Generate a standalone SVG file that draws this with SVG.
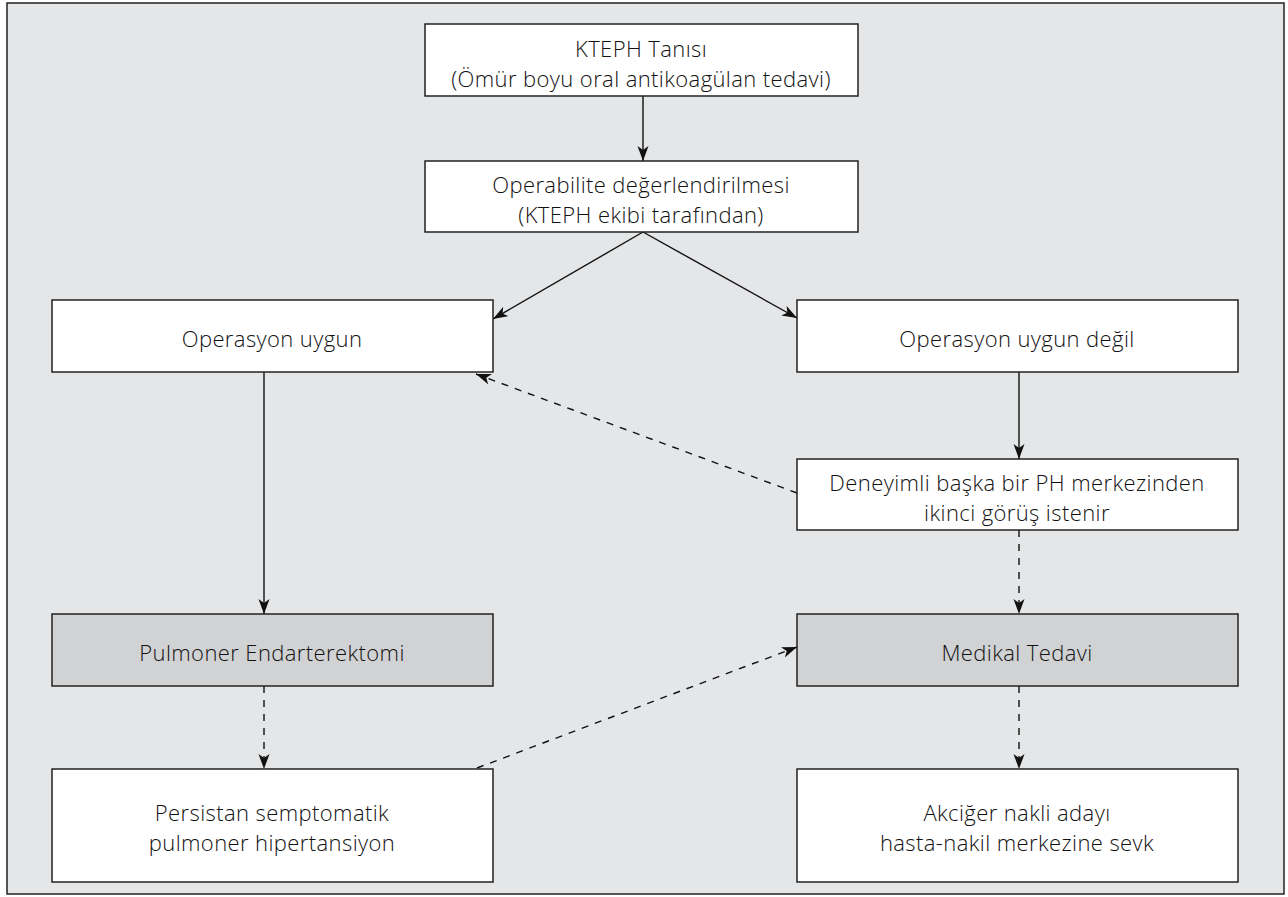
<svg xmlns="http://www.w3.org/2000/svg" width="1288" height="897" viewBox="0 0 1288 897">
<defs>
<marker id="ah" markerUnits="userSpaceOnUse" markerWidth="16" markerHeight="12" refX="15" refY="5.5" orient="auto">
<path d="M0,0 L15,5.5 L0,11 L4,5.5 Z" fill="#111"/>
</marker>
</defs>
<style>
.box{fill:#fff;stroke:#222;stroke-width:1.5}
.gray{fill:#d1d2d4}
.t{font-family:"Open Sans","Noto Sans","DejaVu Sans",sans-serif;font-size:22px;font-weight:350;letter-spacing:0.4px;fill:#111;text-anchor:middle}
.c{fill:none;stroke:#111;stroke-width:1.4;marker-end:url(#ah)}
.d{stroke-dasharray:7 7}
</style>
<rect x="0" y="0" width="1288" height="897" fill="#fff"/>
<rect x="7" y="3" width="1277" height="891" fill="#e5e6e8" stroke="#222" stroke-width="1.5"/>
<g id="connectors">
<line class="c" x1="643" y1="96" x2="643" y2="161"/>
<line class="c" x1="643" y1="232" x2="493" y2="319"/>
<line class="c" x1="643" y1="232" x2="797" y2="318"/>
<line class="c" x1="264" y1="372" x2="264" y2="614"/>
<line class="c" x1="1019" y1="372" x2="1019" y2="459"/>
<line class="c d" x1="797" y1="493" x2="476" y2="374"/>
<line class="c d" x1="1019" y1="530" x2="1019" y2="614"/>
<line class="c d" x1="264" y1="686" x2="264" y2="769"/>
<line class="c d" x1="1019" y1="686" x2="1019" y2="769"/>
<line class="c d" x1="477" y1="768" x2="797" y2="647"/>
</g>
<g id="n1"><rect class="box" x="425" y="24" width="433" height="72"/>
<text class="t" x="641" y="57">KTEPH Tanısı</text><text class="t" x="641" y="87">(Ömür boyu oral antikoagülan tedavi)</text></g>
<g id="n2"><rect class="box" x="425" y="161" width="433" height="71"/>
<text class="t" x="641" y="193">Operabilite değerlendirilmesi</text><text class="t" x="641" y="223">(KTEPH ekibi tarafından)</text></g>
<g id="n3"><rect class="box" x="52" y="300" width="441" height="72"/>
<text class="t" x="272" y="347">Operasyon uygun</text></g>
<g id="n4"><rect class="box" x="797" y="300" width="441" height="72"/>
<text class="t" x="1017" y="347">Operasyon uygun değil</text></g>
<g id="n5"><rect class="box" x="797" y="459" width="441" height="71"/>
<text class="t" x="1017" y="491">Deneyimli başka bir PH merkezinden</text><text class="t" x="1017" y="521">ikinci görüş istenir</text></g>
<g id="n6"><rect class="box gray" x="52" y="614" width="441" height="72"/>
<text class="t" x="272" y="661">Pulmoner Endarterektomi</text></g>
<g id="n7"><rect class="box gray" x="797" y="614" width="441" height="72"/>
<text class="t" x="1017" y="661">Medikal Tedavi</text></g>
<g id="n8"><rect class="box" x="52" y="769" width="441" height="113"/>
<text class="t" x="272" y="821">Persistan semptomatik</text><text class="t" x="272" y="851">pulmoner hipertansiyon</text></g>
<g id="n9"><rect class="box" x="797" y="769" width="441" height="113"/>
<text class="t" x="1017" y="821">Akciğer nakli adayı</text><text class="t" x="1017" y="851">hasta-nakil merkezine sevk</text></g>
</svg>
